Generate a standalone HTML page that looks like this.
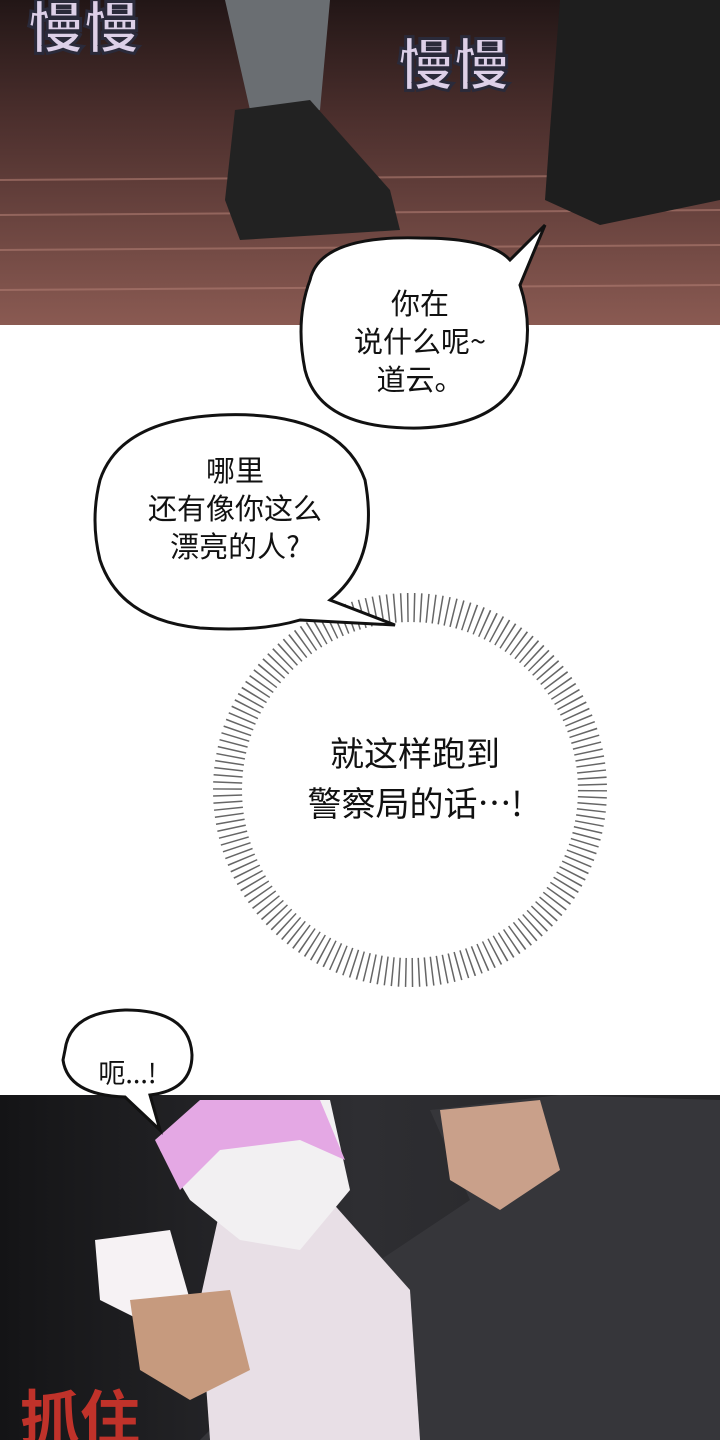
<!DOCTYPE html>
<html><head><meta charset="utf-8"><style>
body{margin:0;width:720px;height:1440px;overflow:hidden;background:#fff;position:relative;font-family:"Noto Sans CJK SC","Liberation Sans",sans-serif}
.t{position:absolute;text-align:center;color:#111;font-size:29px;line-height:38px;font-family:"Noto Sans CJK SC",sans-serif}
</style></head><body>
<svg width="720" height="1440" style="position:absolute;left:0;top:0">
<defs>
<linearGradient id="fl" x1="0" y1="0" x2="0" y2="1"><stop offset="0" stop-color="#221616"/><stop offset="0.35" stop-color="#4a2e2c"/><stop offset="1" stop-color="#8a5a52"/></linearGradient>
<linearGradient id="bt" x1="0" y1="0" x2="1" y2="0"><stop offset="0" stop-color="#141416"/><stop offset="0.5" stop-color="#2e2e32"/><stop offset="1" stop-color="#242426"/></linearGradient>
</defs>
<rect x="0" y="0" width="720" height="325" fill="url(#fl)"/>
<g stroke="#b07c72" stroke-width="2" opacity="0.6">
<line x1="0" y1="180" x2="720" y2="175"/><line x1="0" y1="215" x2="720" y2="210"/><line x1="0" y1="250" x2="720" y2="245"/><line x1="0" y1="290" x2="720" y2="285"/>
</g>
<path d="M225 0 L330 0 L320 110 L280 120 L250 110 Z" fill="#6a6e72"/>
<path d="M235 110 L310 100 L390 190 L400 230 L240 240 L225 200 Z" fill="#222"/>
<path d="M560 0 L720 0 L720 200 L600 225 L545 200 L550 130 Z" fill="#1e1e1e"/>
<text x="28" y="48" font-size="56" font-weight="900" fill="#ddd0e8" stroke="#2a2a3a" stroke-width="3" font-family="Noto Sans CJK SC">慢慢</text>
<text x="398" y="85" font-size="56" font-weight="900" fill="#ddd0e8" stroke="#2a2a3a" stroke-width="3" font-family="Noto Sans CJK SC">慢慢</text>
<rect x="0" y="1095" width="720" height="345" fill="url(#bt)"/>
<path d="M430 1110 L560 1095 L720 1100 L720 1440 L200 1440 L260 1380 L380 1260 L470 1200 Z" fill="#36363a"/>
<path d="M440 1110 L540 1100 L560 1170 L500 1210 L450 1180 Z" fill="#c9a08a"/>
<path d="M220 1210 L330 1200 L410 1290 L420 1440 L210 1440 L200 1300 Z" fill="#e8dfe6"/>
<path d="M160 1150 L230 1100 L330 1100 L350 1190 L300 1250 L240 1240 L190 1200 Z" fill="#f2f0f2"/>
<path d="M155 1140 L200 1100 L320 1100 L345 1160 L300 1140 L220 1150 L180 1190 Z" fill="#e4a8e4"/>
<path d="M95 1240 L170 1230 L190 1300 L140 1320 L100 1300 Z" fill="#f6f2f4"/>
<path d="M130 1300 L230 1290 L250 1370 L190 1400 L140 1370 Z" fill="#c69a7e"/>
<text x="20" y="1440" font-size="60" font-weight="bold" fill="#c0322a" font-family="Noto Sans CJK SC">抓住</text>
<circle cx="410" cy="790" r="180" fill="#fff" stroke="#666" stroke-dasharray="1.5 5" stroke-width="34"/>
<circle cx="410" cy="790" r="168" fill="#fff"/>
<path d="M310 280 Q320 235 420 238 Q490 238 510 260 L545 225 L520 285 Q535 330 520 375 Q500 425 420 428 Q320 430 305 370 Q295 320 310 280 Z" fill="#fff" stroke="#111" stroke-width="3"/>
<path d="M100 480 Q120 420 220 415 Q340 410 365 480 Q380 560 330 600 L395 625 L300 620 Q260 632 200 628 Q120 620 100 560 Q90 520 100 480 Z" fill="#fff" stroke="#111" stroke-width="3"/>
<path d="M65 1050 Q70 1012 125 1010 Q190 1010 192 1055 Q192 1090 150 1095 L160 1130 L125 1097 Q68 1095 63 1060 Z" fill="#fff" stroke="#111" stroke-width="3"/>
</svg>
<div class="t" style="left:305px;top:283px;width:230px">你在<br>说什么呢~<br>道云。</div>
<div class="t" style="left:105px;top:450px;width:260px">哪里<br>还有像你这么<br>漂亮的人?</div>
<div class="t" style="left:255px;top:727px;width:320px;font-size:34px;line-height:50px">就这样跑到<br>警察局的话…!</div>
<div class="t" style="left:65px;top:1053px;width:125px;font-size:27px">呃...!</div>
</body></html>
